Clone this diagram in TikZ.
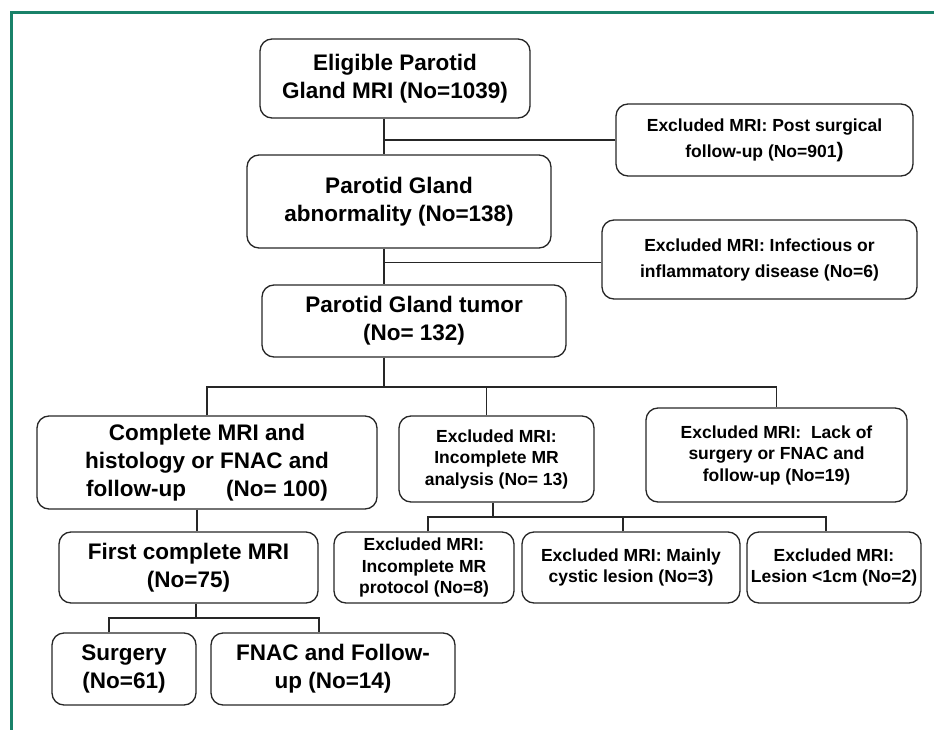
\documentclass[tikz,border=0pt]{standalone}
\usepackage{fontspec}
\setmainfont{Liberation Sans}
\usepackage{tikz}
\usetikzlibrary{calc, positioning}
\definecolor{framegreen}{RGB}{25,130,105}

\tikzset{
  bigbox/.style={draw=black!85, line width=1.3pt, rounded corners=12pt, align=center, inner sep=0pt,
    font=\fontsize{22.5}{28}\selectfont\bfseries},
  exbox/.style={bigbox, font=\fontsize{17.5}{21.5}\selectfont\bfseries},
  upbox/.style={bigbox, font=\fontsize{17.5}{26}\selectfont\bfseries},
  link/.style={draw=black!85, line width=1.2pt},
}

\begin{document}
\begin{tikzpicture}[x=1pt, y=-1pt]
    \useasboundingbox (0,0) rectangle (934,730);

    % Draw the frame
    \draw[framegreen, line width=3pt] (934,13) -- (11,13) -- (11,730);

    % Main column
    \node[bigbox, minimum width=270pt, minimum height=79pt] (elig) at (395,78.5) {Eligible Parotid\\Gland MRI (No=1039)};
    \node[bigbox, minimum width=304pt, minimum height=93pt] (abn) at (399,201.5) {Parotid Gland\\abnormality (No=138)};
    \node[bigbox, minimum width=304pt, minimum height=72pt] (tumor) at (414,321) {Parotid Gland tumor\\(No= 132)};

    % Exclusions on the right
    \node[upbox, minimum width=297pt, minimum height=72pt] (post) at (764.5,140) {Excluded MRI: Post surgical\\follow-up (No=901{\fontsize{21}{21}\selectfont)}};
    \node[upbox, minimum width=315pt, minimum height=79pt] (infect) at (759.5,259.5) {Excluded MRI: Infectious or\\inflammatory disease (No=6)};

    % Second level
    \node[bigbox, minimum width=340pt, minimum height=93pt] (compl) at (207,462.5) {Complete MRI and\\histology or FNAC and\\follow-up\hspace{40pt}(No= 100)};
    \node[exbox, minimum width=195pt, minimum height=86pt] (incan) at (496.5,459) {Excluded MRI:\\Incomplete MR\\analysis (No= 13)};
    \node[exbox, minimum width=261pt, minimum height=94pt] (lack) at (776.5,455) {Excluded MRI:~ Lack of\\surgery or FNAC and\\follow-up (No=19)};

    % Third level
    \node[bigbox, minimum width=259pt, minimum height=71pt] (first) at (188.5,567.5) {First complete MRI\\(No=75)};
    \node[exbox, minimum width=180pt, minimum height=71pt] (proto) at (424,567.5) {Excluded MRI:\\Incomplete MR\\protocol (No=8)};
    \node[exbox, minimum width=218pt, minimum height=71pt] (cystic) at (631,567.5) {Excluded MRI: Mainly\\cystic lesion (No=3)};
    \node[exbox, minimum width=174pt, minimum height=71pt] (lesion) at (834,567.5) {Excluded MRI:\\Lesion <1cm (No=2)};

    % Last level
    \node[bigbox, minimum width=144pt, minimum height=72pt] (surg) at (124,669) {Surgery\\(No=61)};
    \node[bigbox, minimum width=244pt, minimum height=72pt] (fnac) at (333,669) {FNAC and Follow-\\up (No=14)};

    % Connectors
    \coordinate (trunk) at (384,0);
    \coordinate (tsplit) at (384,387);
    \coordinate (isplit) at (493,517);
    \coordinate (fsplit) at (196,618);

    \draw[link] (elig.south -| trunk) -- (abn.north -| trunk);
    \draw[link] (post.west) -- (post.west -| trunk);
    \draw[link] (abn.south -| trunk) -- (tumor.north -| trunk);
    \draw[link] ([yshift=-3pt]infect.west) -- ([yshift=-3pt]infect.west -| trunk);

    \draw[link] (tumor.south -| trunk) -- (tsplit);
    \draw[link] (compl.north) |- (lack.north |- tsplit) -- (lack.north);
    \draw[link] ([xshift=-10pt]incan.north) -- ([xshift=-10pt]incan.north |- tsplit);

    \draw[link] (incan.south -| isplit) -- (isplit);
    \draw[link] ([xshift=4pt]proto.north) |- ([xshift=-8pt]lesion.north |- isplit) -- ([xshift=-8pt]lesion.north);
    \draw[link] ([xshift=-8pt]cystic.north) -- ([xshift=-8pt]cystic.north |- isplit);

    \draw[link] ([xshift=-10pt]compl.south) -- ([xshift=-10pt]compl.south |- first.north);
    \draw[link] (first.south -| fsplit) -- (fsplit);
    \draw[link] ([xshift=-15pt]surg.north) |- ([xshift=-14pt]fnac.north |- fsplit) -- ([xshift=-14pt]fnac.north);
\end{tikzpicture}
\end{document}
